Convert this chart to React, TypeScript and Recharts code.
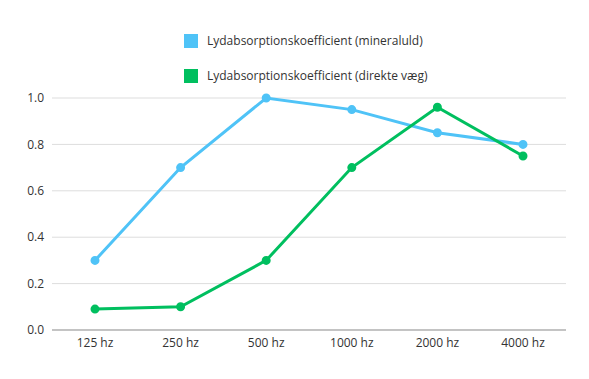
import { LineChart, Line, XAxis, YAxis, CartesianGrid, Legend } from "recharts";

const FREQUENCIES = ["125 hz", "250 hz", "500 hz", "1000 hz", "2000 hz", "4000 hz"];
const MINERALULD = [0.3, 0.7, 1.0, 0.95, 0.85, 0.8];
const DIREKTE_VAEG = [0.09, 0.1, 0.3, 0.7, 0.96, 0.75];
const Y_TICKS = [0, 0.2, 0.4, 0.6, 0.8, 1.0];

const SERIES = [
  { key: "mineraluld", name: "Lydabsorptionskoefficient (mineraluld)", color: "#4FC3F7" },
  { key: "direkte", name: "Lydabsorptionskoefficient (direkte væg)", color: "#00BF5F" },
];

const FONT = "'Open Sans', sans-serif";

function LegendBox() {
  return (
    <div style={{ height: 75, paddingLeft: 184, fontFamily: FONT, fontSize: 12, color: "#333" }}>
      {SERIES.map((s) => (
        <div key={s.key} style={{ height: 35, display: "flex", alignItems: "center" }}>
          <span style={{ width: 14, height: 14, background: s.color, display: "inline-block", marginRight: 9 }} />
          <span>{s.name}</span>
        </div>
      ))}
    </div>
  );
}

export default function App() {
  const data = FREQUENCIES.map((f, i) => ({
    freq: f,
    mineraluld: MINERALULD[i],
    direkte: DIREKTE_VAEG[i],
  }));

  return (
    <div style={{ position: "absolute", left: 0, top: 0, width: 589, height: 379, background: "#fff" }}>
      <LineChart width={589} height={379} data={data} margin={{ top: 23, right: 23, left: 12, bottom: 19 }}>
        <CartesianGrid vertical={false} stroke="#dddddd" />
        <XAxis
          dataKey="freq"
          padding={{ left: 43, right: 43 }}
          axisLine={{ stroke: "#999" }}
          tickLine={false}
          tick={{ fill: "#333", fontSize: 12, fontFamily: FONT }}
        />
        <YAxis
          domain={[0, 1]}
          ticks={Y_TICKS}
          tickFormatter={(v: number) => v.toFixed(1)}
          axisLine={false}
          tickLine={false}
          width={40}
          tick={{ fill: "#333", fontSize: 12, fontFamily: FONT }}
        />
        <Legend
          verticalAlign="top"
          layout="vertical"
          content={() => <LegendBox />}
          wrapperStyle={{ left: 0, width: 589 }}
        />
        {SERIES.map((s) => (
          <Line
            key={s.key}
            type="linear"
            dataKey={s.key}
            name={s.name}
            stroke={s.color}
            strokeWidth={3}
            dot={{ fill: s.color, stroke: s.color, r: 3 }}
            activeDot={false}
            isAnimationActive={false}
          />
        ))}
      </LineChart>
    </div>
  );
}
